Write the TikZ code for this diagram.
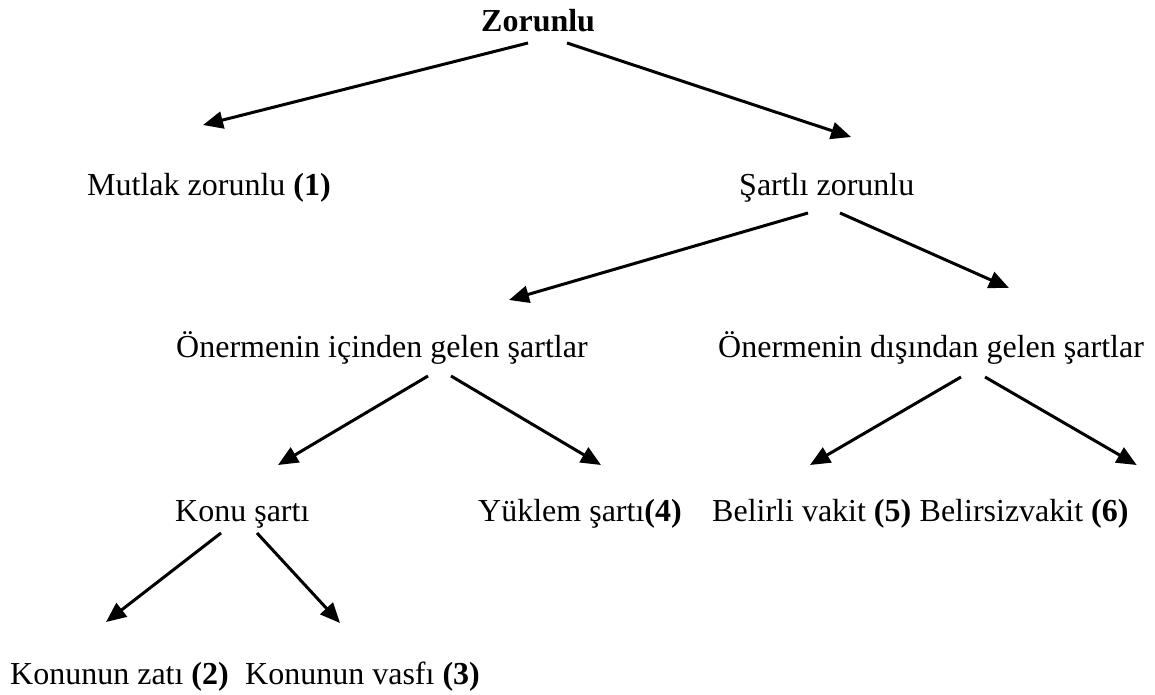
\documentclass[tikz,border=0pt]{standalone}
\usepackage{fontspec}
\setmainfont{Liberation Serif}
\usetikzlibrary{arrows.meta}
\begin{document}
\begin{tikzpicture}[x=1pt,y=-1pt,
  lbl/.style={anchor=base west,inner sep=0pt,font=\fontsize{32pt}{38pt}\selectfont},
  arr/.style={line width=3pt,-{Triangle[length=20pt,width=17pt]}}]
\useasboundingbox[fill=white] (0,0) rectangle (1155,695);
\node[lbl] (zor) at (481,32) {\textbf{Zorunlu}};
\node[lbl] (mut) at (87,195) {Mutlak zorunlu \textbf{(1)}};
\node[lbl] (sar) at (739,195) {Şartlı zorunlu};
\node[lbl] (ic) at (176,357) {Önermenin içinden gelen şartlar};
\node[lbl] (dis) at (718,357) {Önermenin dışından gelen şartlar};
\node[lbl] (konu) at (175,521) {Konu şartı};
\node[lbl] (yuk) at (478,521) {Yüklem şartı\textbf{(4)}};
\node[lbl] (bel1) at (712,521) {Belirli vakit \textbf{(5)}};
\node[lbl] (bel2) at (bel1.base east) [xshift=8pt] {Belirsizvakit \textbf{(6)}};
\node[lbl] (kz) at (10,684) {Konunun zatı \textbf{(2)}};
\node[lbl] (kv) at (kz.base east) [xshift=16pt] {Konunun vasfı \textbf{(3)}};
\draw[arr] ([shift={(47,11)}]zor.base west) -- ([shift={(116,-70)}]mut.base west);
\draw[arr] ([shift={(86,11)}]zor.base west) -- ([shift={(112,-58)}]sar.base west);
\draw[arr] ([shift={(69,18)}]sar.base west) -- ([shift={(333,-57)}]ic.base west);
\draw[arr] ([shift={(101,18)}]sar.base west) -- ([shift={(291,-69)}]dis.base west);
\draw[arr] ([shift={(252,19)}]ic.base west) -- ([shift={(103,-56)}]konu.base west);
\draw[arr] ([shift={(275,19)}]ic.base west) -- ([shift={(123,-56)}]yuk.base west);
\draw[arr] ([shift={(243,20)}]dis.base west) -- ([shift={(98,-56)}]bel1.base west);
\draw[arr] ([shift={(267,20)}]dis.base west) -- ([shift={(8,-56)}]bel2.base east);
\draw[arr] ([shift={(46,12)}]konu.base west) -- ([shift={(96,-62)}]kz.base west);
\draw[arr] ([shift={(82,12)}]konu.base west) -- ([shift={(95,-61)}]kv.base west);
\end{tikzpicture}
\end{document}
